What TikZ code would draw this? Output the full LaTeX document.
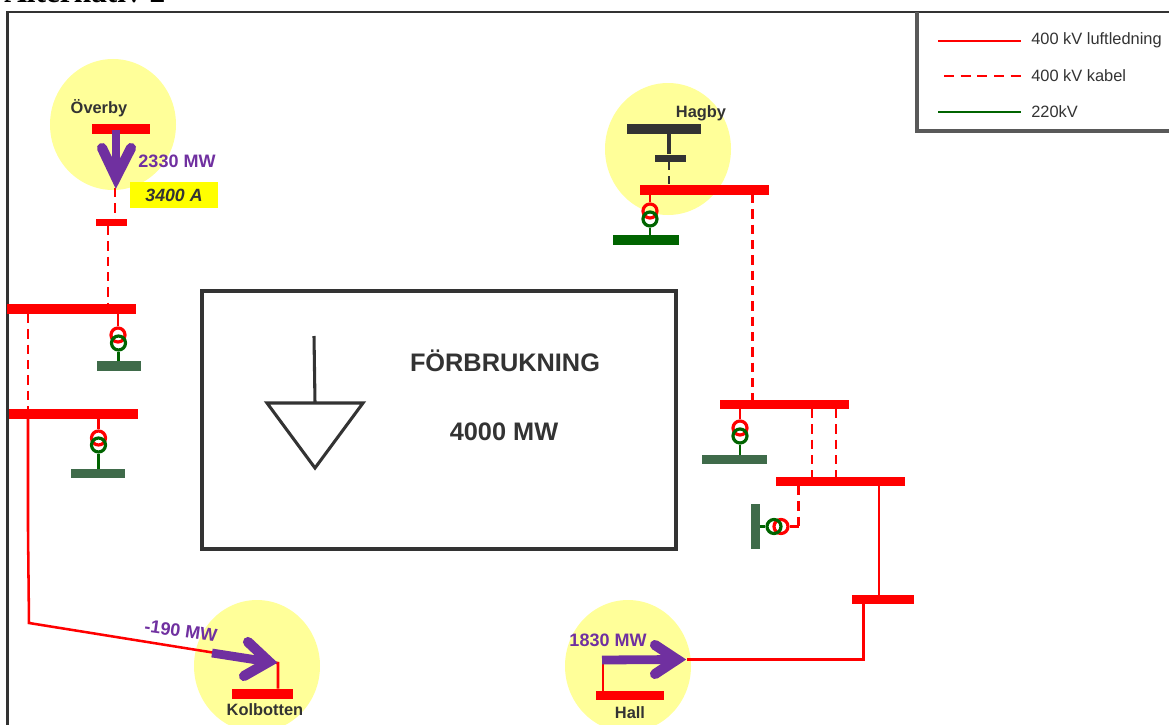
\documentclass[tikz,border=0pt]{standalone}
\usepackage{fontspec}
\setmainfont{Liberation Sans}
\newfontfamily\titlefont{Liberation Serif}
\definecolor{ink}{HTML}{333333}
\definecolor{pur}{HTML}{7030A0}
\definecolor{halo}{HTML}{FFFF99}
\definecolor{lgreen}{HTML}{006400}
\definecolor{gbus}{HTML}{3F6B4A}
\definecolor{pureyellow}{HTML}{FFFF00}
\definecolor{purered}{HTML}{FF0000}
\tikzset{
  bar/.style n args={2}{rectangle,inner sep=0pt,minimum width=#1*0.75pt,minimum height=#2*0.75pt},
  halocirc/.style n args={2}{ellipse,fill=halo,inner sep=0pt,minimum width=#1*0.75pt,minimum height=#2*0.75pt},
  red line/.style={purered,line width=1.9pt},
  cable/.style={purered,line width=1.9pt,dash pattern=on 7pt off 4.5pt},
  green line/.style={lgreen,line width=1.9pt},
  tr red/.style={circle,draw=purered,line width=2.4pt,inner sep=0pt,minimum size=10.5pt},
  tr green/.style={circle,draw=lgreen,line width=2.4pt,inner sep=0pt,minimum size=10.5pt},
  flow/.style={pur,line width=6.6pt},
  flowhead/.style={pur,line width=7.6pt,line cap=round,line join=miter},
  lbl/.style={ink,font=\bfseries\fontsize{12.3pt}{14pt}\selectfont,inner sep=0pt},
  mw/.style={pur,font=\bfseries\fontsize{13.5pt}{15pt}\selectfont,inner sep=0pt},
  big/.style={ink,font=\bfseries\fontsize{19pt}{22pt}\selectfont,inner sep=0pt},
  leg/.style={ink,font=\fontsize{12.3pt}{14pt}\selectfont,inner sep=0pt,anchor=west},
}
\usetikzlibrary{shapes.geometric}
\begin{document}
\begin{tikzpicture}[x=0.75pt,y=-0.75pt]
\useasboundingbox (0,0) rectangle (1169,724);
\fill[white] (0,0) rectangle (1169,724);
% title and frame
\node[anchor=base west,inner sep=0pt,font=\titlefont\bfseries\fontsize{23.5pt}{26pt}\selectfont] (title) at (4,3) {Alternativ 2};
\draw[ink,line width=1.6pt] (1175,12) -- (7.5,12) -- (7.5,730);
% halos
\node[halocirc={126}{131}] (hov) at (113,124.5) {};
\node[halocirc={126}{132}] (hha) at (668,149) {};
\node[halocirc={126}{132}] (hko) at (257,666) {};
\node[halocirc={126}{132}] (hhl) at (628,666) {};
% legend
\draw[gray!70!black,line width=2.6pt] (917,12) -- (917,131) -- (1175,131);
\coordinate (l1a) at (938,41); \coordinate (l1b) at (1021,41);
\coordinate (l2a) at (944,76); \coordinate (l2b) at (1021,76);
\coordinate (l3a) at (938,112); \coordinate (l3b) at (1021,112);
\draw[red line] (l1a) -- (l1b);
\draw[purered,line width=1.9pt,dash pattern=on 7.5pt off 5pt] (l2a) -- (l2b);
\draw[green line] (l3a) -- (l3b);
\node[leg] (lt1) at (1031,40) {400 kV luftledning};
\node[leg] (lt2) at (1031,76) {400 kV kabel};
\node[leg] (lt3) at (1031,112) {220kV};
% buses
\node[bar={58}{10},fill=purered] (ov) at (121,129) {};
\node[bar={31}{7},fill=purered] (ovs) at (111,222.5) {};
\node[bar={129}{10},fill=purered] (b3) at (71.5,309) {};
\node[bar={129}{10},fill=purered] (b4) at (73,414) {};
\node[bar={44}{10},fill=gbus] (g3) at (119,366) {};
\node[bar={54}{9},fill=gbus] (g4) at (98,473.5) {};
\node[bar={61}{10},fill=purered] (ko) at (262.5,694) {};
\node[bar={68}{9},fill=purered] (hl) at (630,695.5) {};
\node[bar={62}{9},fill=purered] (hb) at (883,599.5) {};
\node[bar={74}{10},fill=ink] (ha) at (664,129) {};
\node[bar={31}{7},fill=ink] (has) at (670.5,158) {};
\node[bar={129}{10},fill=purered] (hr) at (704.5,189.5) {};
\node[bar={66}{10},fill=lgreen] (hg) at (646,240) {};
\node[bar={129}{9},fill=purered] (m1) at (784.5,404.5) {};
\node[bar={65}{9},fill=gbus] (m1g) at (734.5,459.5) {};
\node[bar={129}{9},fill=purered] (m2) at (840.5,481.5) {};
\node[bar={9}{45},fill=gbus] (m2g) at (755.5,526.5) {};
% load box
\node[rectangle,draw=ink,line width=2.6pt,inner sep=0pt,minimum width=474*0.75pt,minimum height=258*0.75pt] (box) at (439,420) {};
\coordinate (ltop) at (314,336); \coordinate (lmid) at (315,403);
\coordinate (la) at (267,403); \coordinate (lb) at (363,403); \coordinate (lc) at (315,468);
\draw[ink,line width=2.3pt] (ltop) -- (lmid);
\draw[ink,line width=2.3pt,line join=miter] (la) -- (lb) -- (lc) -- cycle;
\node[big] (forb) at (505,360.5) {FÖRBRUKNING};
\node[big] (mw4) at (504,432) {4000 MW};
% transformers
\node[tr red] (t1r) at (118,335) {};
\node[tr green] (t1g) at (118.5,343) {};
\node[tr red] (t2r) at (98.5,438) {};
\node[tr green] (t2g) at (98.5,445) {};
\node[tr red] (t3r) at (650,211) {};
\node[tr green] (t3g) at (650,219) {};
\node[tr red] (t4r) at (740,428) {};
\node[tr green] (t4g) at (740,436) {};
\node[tr red] (t5r) at (781,526.5) {};
\node[tr green] (t5g) at (774,526.5) {};
% transformer leads
\draw[red line] (t1r |- b3.south) -- (t1r.north);
\draw[green line] (t1g.south) -- (t1g |- g3.north);
\draw[red line] (t2r |- b4.south) -- (t2r.north);
\draw[green line] (t2g.south) -- (t2g |- g4.north);
\draw[red line] (t3r |- hr.south) -- (t3r.north);
\draw[green line] (t3g.south) -- (t3g |- hg.north);
\draw[red line] (t4r |- m1.south) -- (t4r.north);
\draw[green line] (t4g.south) -- (t4g |- m1g.north);
\draw[green line] (t5g.west) -- (m2g.east |- t5g);
% cables
\coordinate (ovc) at (115,188);
\draw[cable] (ovc) -- (ovc |- ovs.north);
\coordinate (ovd) at (108,226);
\draw[cable] (ovd) -- (ovd |- b3.north);
\coordinate (w1) at (28,314);
\draw[cable] (w1) -- (w1 |- b4.north);
\coordinate (hac) at (669,161);
\draw[cable,ink] (hac) -- (hac |- hr.north);
\draw[ink,line width=2.4pt] (has.north -| hac) -- (hac |- ha.south);
\coordinate (hrd) at (752.5,194);
\draw[cable] (hrd) -- (hrd |- m1.north);
\coordinate (m1a) at (812,409); \coordinate (m1b) at (836,409);
\draw[cable] (m1a) -- (m1a |- m2.north);
\draw[cable] (m1b) -- (m1b |- m2.north);
\coordinate (m2d) at (798.7,486);
\draw[cable] (m2d) -- (m2d |- t5r);
\draw[red line] (m2d |- t5r) -- (t5r.east);
% overhead lines
\coordinate (kb) at (29,623); \coordinate (kc) at (278,663);
\draw[red line,line join=miter] (28,419) -- (28,530) -- (kb) -- (kc) -- (kc |- ko.north);
\coordinate (hla) at (603,660); \coordinate (hlb) at (687,659.5); \coordinate (hlc) at (863.5,659.5);
\draw[red line] (hl.north -| hla) -- (hla);
\draw[red line] (hlb) -- (hlc) -- (hlc |- hb.south);
\coordinate (m2e) at (879,486);
\draw[red line] (m2e) -- (m2e |- hb.north);
% flow arrows
\draw[flow] (116,130) -- (116,177);
\draw[flowhead] (102,148) -- (116,177.5) -- (131,148);
\draw[flow] (212,653) -- (268,661.7);
\draw[flowhead] (248,642) -- (269,661.7) -- (244,676);
\draw[flow] (602,660) -- (678,659.5);
\draw[flowhead] (655,645) -- (677,659.5) -- (655,674);
% labels
\node[bar={88}{26},fill=pureyellow] (ybox) at (174,195) {};
\node[ink,font=\bfseries\itshape\fontsize{13.3pt}{15pt}\selectfont,inner sep=0pt] (amp) at (174,195.5) {3400 A};
\node[lbl] (ovt) at (99,108) {Överby};
\node[mw] (mwa) at (177,161) {2330 MW};
\node[lbl] (hat) at (701,113) {Hagby};
\node[lbl] (kot) at (265,710) {Kolbotten};
\node[lbl] (hlt) at (630,713) {Hall};
\node[mw,rotate=-8] (mwb) at (181,631) {-190 MW};
\node[mw] (mwc) at (608,640) {1830 MW};
\end{tikzpicture}
\end{document}
